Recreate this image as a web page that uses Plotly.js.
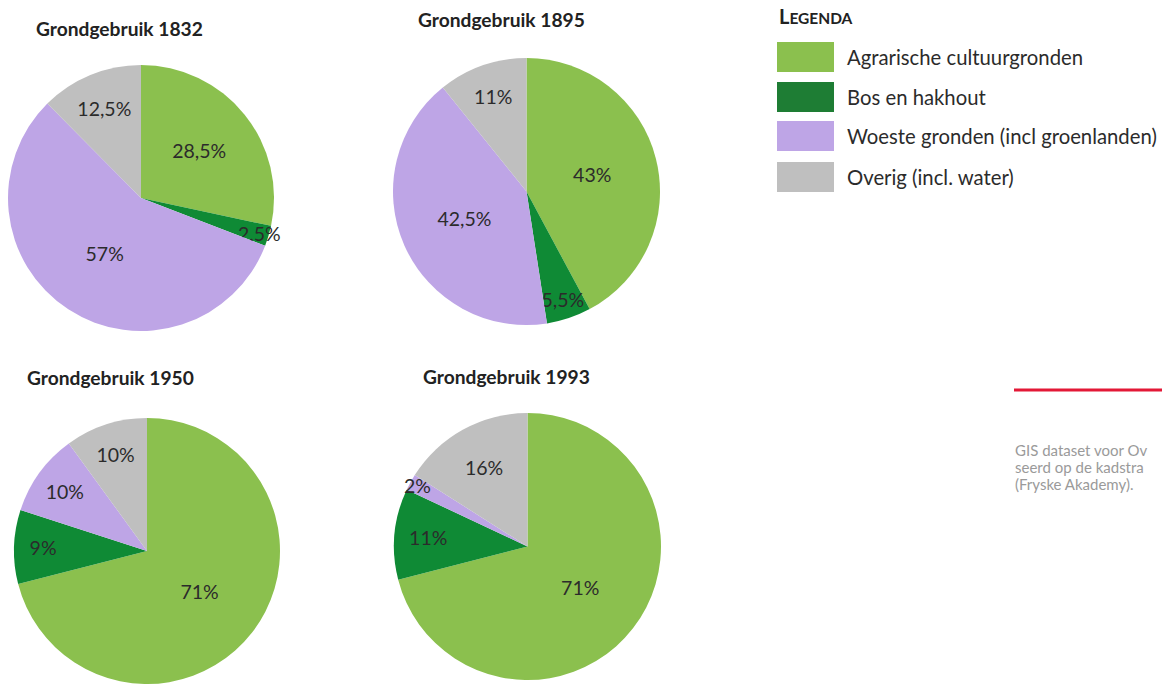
<!DOCTYPE html>
<html>
<head>
<meta charset="utf-8">
<script src="https://cdn.plot.ly/plotly-3.0.1.min.js"></script>
<style>html,body{margin:0;padding:0;background:#fff;}#chart{width:1162px;height:684px;}</style>
</head>
<body>
<div id="chart"></div>
<script>
const categories = ['Agrarische cultuurgronden', 'Bos en hakhout', 'Woeste gronden (incl groenlanden)', 'Overig (incl. water)'];
const years = ['1832', '1895', '1950', '1993'];
const values1832 = [28.5, 2.5, 57, 12.5];
const values1895 = [43, 5.5, 42.5, 11];
const values1950 = [71, 9, 10, 10];
const values1993 = [71, 11, 2, 16];
const pieColors = ['#8BC04E', '#0F8A35', '#BEA5E6', '#BFBFBF'];
const legendColors = ['#8BC04E', '#1E7D34', '#BEA5E6', '#BFBFBF'];
const legendTitle = 'LEGENDA';
const sourceLines = ['GIS dataset voor Ov', 'seerd op de kadstra', '(Fryske Akademy).'];

const W = 1162, H = 684;
const FONT = 'Lato, "Noto Sans", sans-serif';
function px(x) { return x / W; }
function py(y) { return 1 - y / H; }
function fmt(v) { return String(v).replace('.', ',') + '%'; }

// pie boxes in pixels: [left, top, size]
const boxes = [[8, 65, 266], [393, 58, 267], [14, 418, 266], [394, 413, 267]];
const allValues = [values1832, values1895, values1950, values1993];
const titlePos = [[119, 28], [501, 20], [110, 377], [506, 376]];

const data = allValues.map((vals, i) => {
  const b = boxes[i];
  return {
    type: 'pie',
    labels: categories,
    values: vals,
    text: vals.map(fmt),
    textinfo: 'text',
    textposition: 'inside',
    insidetextorientation: 'horizontal',
    textfont: {family: FONT, size: 19.5, color: '#2b2b2b'},
    sort: false,
    direction: 'clockwise',
    rotation: 0,
    marker: {colors: pieColors, line: {width: 0}},
    hoverinfo: 'label+text',
    showlegend: false,
    domain: {x: [px(b[0]), px(b[0] + b[2])], y: [py(b[1] + b[2]), py(b[1])]}
  };
});

const annotations = [];
years.forEach((y, i) => {
  annotations.push({
    text: '<b>Grondgebruik ' + y + '</b>',
    xref: 'paper', yref: 'paper', x: px(titlePos[i][0]), y: py(titlePos[i][1]),
    xanchor: 'center', yanchor: 'middle', showarrow: false,
    font: {family: FONT, size: 19.2, color: '#222'}
  });
});
annotations.push({
  text: '<b>' + legendTitle[0] + '<span style="font-size:15.5px">' + legendTitle.slice(1) + '</span></b>',
  xref: 'paper', yref: 'paper', x: px(777), y: py(16), xanchor: 'left', yanchor: 'middle',
  showarrow: false, font: {family: FONT, size: 20, color: '#222'}
});
const shapes = [];
const rowTops = [42, 82, 121, 162];
categories.forEach((c, i) => {
  shapes.push({
    type: 'rect', xref: 'paper', yref: 'paper',
    x0: px(777), x1: px(834), y0: py(rowTops[i] + 30), y1: py(rowTops[i]),
    fillcolor: legendColors[i], line: {width: 0}
  });
  annotations.push({
    text: c, xref: 'paper', yref: 'paper', x: px(845), y: py(rowTops[i] + 15),
    xanchor: 'left', yanchor: 'middle', showarrow: false,
    font: {family: FONT, size: 20.3, color: '#2b2b2b'}
  });
});
shapes.push({
  type: 'line', xref: 'paper', yref: 'paper', x0: px(1014), x1: px(1162), y0: py(390), y1: py(390),
  line: {color: '#E31837', width: 3}
});
sourceLines.forEach((t, i) => {
  annotations.push({
    text: t, xref: 'paper', yref: 'paper', x: px(1013), y: py(450 + i * 17),
    xanchor: 'left', yanchor: 'middle', showarrow: false,
    font: {family: FONT, size: 15, color: '#9a9a9a'}
  });
});

const layout = {
  width: W, height: H,
  margin: {l: 0, r: 0, t: 0, b: 0},
  paper_bgcolor: '#fff', plot_bgcolor: '#fff',
  showlegend: false,
  uniformtext: {minsize: 19.5, mode: 'show'},
  annotations: annotations,
  shapes: shapes
};
Plotly.newPlot('chart', data, layout, {displayModeBar: false, staticPlot: true});
</script>
</body>
</html>
